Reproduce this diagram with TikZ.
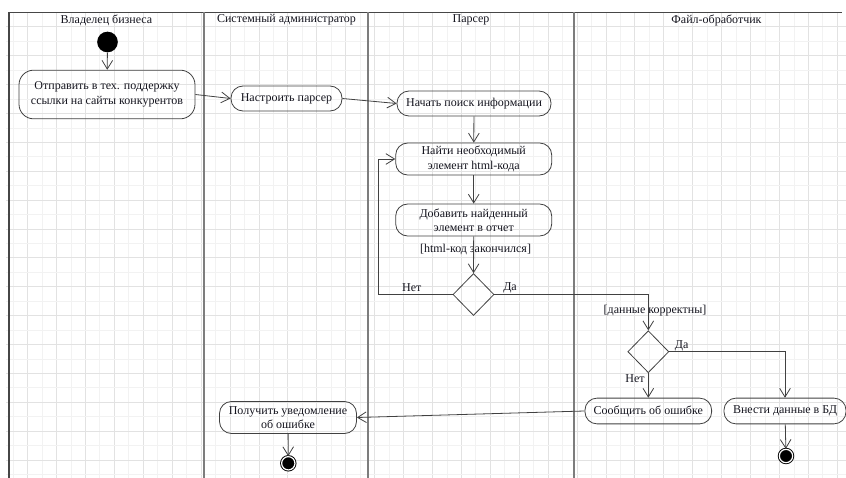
\documentclass[tikz,border=0pt]{standalone}
\usepackage{fontspec}
\setmainfont{Liberation Serif}
\usetikzlibrary{arrows.meta,shapes.geometric}
\definecolor{gridminor}{RGB}{242,242,242}
\definecolor{gridmajor}{RGB}{226,226,226}
\definecolor{laneline}{RGB}{125,125,125}
\definecolor{frameline}{RGB}{70,70,70}
\definecolor{edge}{RGB}{65,65,65}
\definecolor{ink}{RGB}{20,20,30}

\begin{document}
\begin{tikzpicture}[x=0.75pt,y=-0.75pt,
  font=\fontsize{9}{10.8}\selectfont,
  every node/.style={text=ink},
  action/.style={draw=edge, line width=0.6pt, rounded corners=9pt,
    align=center, inner sep=0pt},
  decision/.style={draw=edge, line width=0.6pt, diamond, inner sep=0pt,
    minimum width=30.75pt, minimum height=31.5pt},
  flow/.style={draw=edge, line width=0.6pt,
    -{Straight Barb[length=6.5pt,width=8pt]}},
  guard/.style={inner sep=0pt},
  lanetitle/.style={inner sep=0pt},
  startdot/.style={circle, fill=black, inner sep=0pt, minimum size=15.5pt},
  enddot/.style={circle, draw=black, line width=0.7pt, fill=black,
    double=white, double distance=0.9pt, inner sep=0pt, minimum size=10pt}]

\useasboundingbox (0,0) rectangle (846,478);

% background grid
\foreach \i in {0,...,58} {
  \pgfmathtruncatemacro\odd{mod(\i,2)}
  \ifnum\odd=1 \def\gc{gridmajor}\else\def\gc{gridminor}\fi
  \draw[\gc, line width=0.75pt] ({13.2+14.46*\i},12.5) -- ({13.2+14.46*\i},478);
}
\foreach \j in {1,...,32} {
  \pgfmathtruncatemacro\odd{mod(\j,2)}
  \ifnum\odd=1 \def\gc{gridmajor}\else\def\gc{gridminor}\fi
  \draw[\gc, line width=0.75pt] (6,{12.5+14.44*\j}) -- (846,{12.5+14.44*\j});
}

% swimlanes
\draw[frameline, line width=1.1pt] (9,478) -- (9,12.5) -- (842,12.5);
\draw[laneline, line width=1.5pt] (204,12.5) -- (204,478);
\draw[laneline, line width=1.5pt] (368,12.5) -- (368,478);
\draw[laneline, line width=1.5pt] (574,12.5) -- (574,478);

\node[lanetitle] (t1) at (106.5,20) {Владелец бизнеса};
\node[lanetitle] (t2) at (286.5,20) {Системный администратор};
\node[lanetitle] (t3) at (471,20) {Парсер};
\node[lanetitle] (t4) at (716.5,20) {Файл-обработчик};

% activities
\node[startdot] (start) at (107.5,42) {};
\node[action, minimum width=132pt, minimum height=36.5pt, rounded corners=11pt]
  (send) at (107,94.5) {Отправить в тех. поддержку\\ссылки на сайты конкурентов};
\node[action, minimum width=83.25pt, minimum height=18.75pt] (setup) at (286.5,98.5) {Настроить парсер};
\node[action, minimum width=115.5pt, minimum height=18.75pt] (search) at (474,103.5) {Начать поиск информации};
\node[action, minimum width=117pt, minimum height=24pt] (find) at (473.7,159) {Найти необходимый\\элемент html-кода};
\node[action, minimum width=117pt, minimum height=24pt] (add) at (473.7,220) {Добавить найденный\\элемент в отчет};
\node[decision] (dec1) at (473.5,294.5) {};
\node[decision] (dec2) at (648.3,351.7) {};
\node[action, minimum width=95pt, minimum height=19.3pt] (report) at (648.3,411) {Сообщить об ошибке};
\node[action, minimum width=91.5pt, minimum height=19.3pt] (store) at (785,411) {Внести данные в БД};
\node[action, minimum width=102.75pt, minimum height=24pt] (notify) at (288,417.5) {Получить уведомление\\об ошибке};
\node[enddot] (end1) at (288.3,463.3) {};
\node[enddot] (end2) at (786,456) {};

\coordinate (loopx) at (378,0);

% guards and branch labels
\node[guard] (g1) at (475.5,249.5) {[html-код закончился]};
\node[guard] (g2) at (655,310.7) {[данные корректны]};
\node[guard] (no1) at (411.7,288) {Нет};
\node[guard] (yes1) at (510,288) {Да};
\node[guard] (yes2) at (681.7,345.5) {Да};
\node[guard] (no2) at (635,379) {Нет};

% control flow
\draw[flow] (start) -- (send);
\draw[flow] (send.east) -- (setup.west);
\draw[flow] (setup.east) -- (search.west);
\draw[flow] (search) -- (find);
\draw[flow] (find) -- (add);
\draw[flow] (add) -- (dec1);
\draw[flow] (dec1.west) -- (dec1.west -| loopx) |- (find.west);
\draw[flow] (dec1.east) -| (dec2.north);
\draw[flow] (dec2.east) -| (store.north);
\draw[flow] (dec2.south) -- (report.north);
\draw[flow] (report.west) -- (notify.east);
\draw[flow] (notify) -- (end1);
\draw[flow] (store) -- (end2);

\end{tikzpicture}
\end{document}
